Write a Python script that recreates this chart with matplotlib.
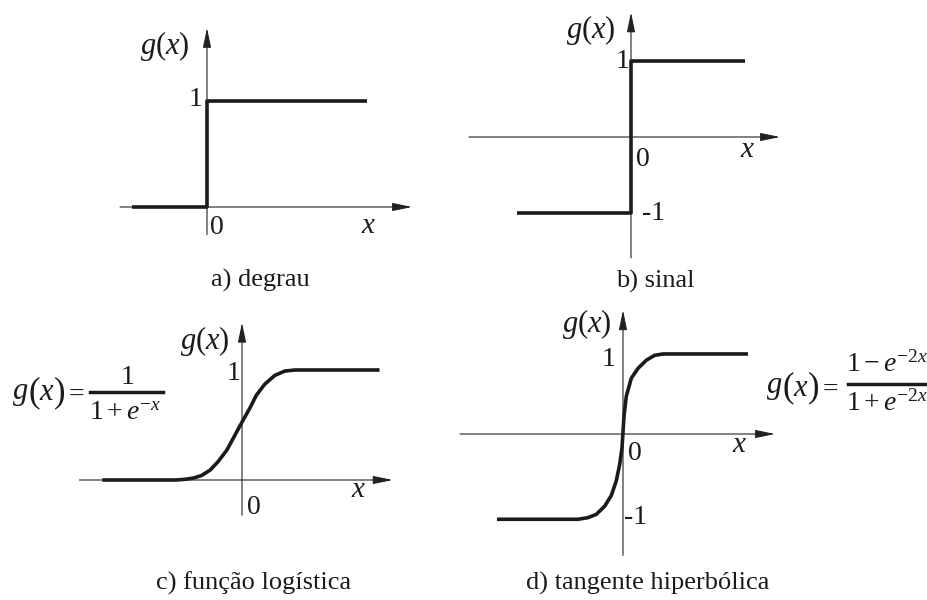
import matplotlib
matplotlib.use("Agg")
import matplotlib.pyplot as plt
from matplotlib.lines import Line2D

plt.rcParams["font.family"] = "serif"
plt.rcParams["font.serif"] = ["Liberation Serif", "Times New Roman", "DejaVu Serif"]
plt.rcParams["mathtext.fontset"] = "custom"
plt.rcParams["mathtext.rm"] = "Liberation Serif"
plt.rcParams["mathtext.it"] = "Liberation Serif:italic"

W, H = 928, 600

# a) degrau
step_x = [-1.5, 0, 0, 3.2]
step_y = [0, 0, 1, 1]
# b) sinal
sign_x = [-2.28, 0, 0, 2.28]
sign_y = [-1, -1, 1, 1]
# c) funcao logistica (pontos lidos da figura)
logi_x = [-12.7, -6.0, -5.2, -4.4, -3.7, -2.9, -2.15, -1.39, -0.79, -0.2, 0.3,
          0.75, 1.30, 2.06, 2.97, 3.88, 4.79, 12.5]
logi_y = [0, 0, 0.006, 0.018, 0.04, 0.09, 0.17, 0.27, 0.38, 0.49, 0.58,
          0.66, 0.77, 0.87, 0.95, 0.99, 1.0, 1.0]
# d) tangente hiperbolica (pontos lidos da figura)
tanh_x = [-12.6, -4.5, -3.5, -2.67, -1.83, -1.17, -0.67, -0.33, -0.1, 0.1,
          0.33, 0.83, 1.5, 2.33, 3.17, 4.0, 4.67, 12.5]
tanh_y = [-1.04, -1.04, -1.02, -0.98, -0.88, -0.75, -0.57, -0.37, -0.17, 0.22,
          0.46, 0.68, 0.80, 0.90, 0.96, 0.976, 0.976, 0.976]

fig = plt.figure(figsize=(W / 100, H / 100), dpi=100)


def painel(ox, oy, sx, sy, xr, yr):
    # eixos sobre a figura inteira, origem em (ox, oy) pixels
    ax = fig.add_axes([0, 0, 1, 1])
    ax.set_xlim(-ox / sx, (W - ox) / sx)
    ax.set_ylim(-(H - oy) / sy, oy / sy)
    ax.axis("off")
    ax.patch.set_visible(False)
    arrow = dict(arrowstyle="-|>,head_length=1.2,head_width=0.25", lw=0.8,
                 color="#222222", mutation_scale=10, shrinkA=0, shrinkB=0)
    ax.annotate("", xy=(xr[1], 0), xytext=(xr[0], 0), arrowprops=arrow)
    ax.annotate("", xy=(0, yr[1]), xytext=(0, yr[0]), arrowprops=arrow)
    return ax


def txt(px, py, s, size=19, **kw):
    fig.text(px / W, 1 - py / H, s, ha="center", va="center", size=size,
             color="#1a1a1a", **kw)


curve = dict(color="#1a1a1a", lw=2.6, solid_joinstyle="round", solid_capstyle="butt")

ax = painel(207, 207, 50, 106, (-1.74, 4.1), (-0.26, 1.69))
ax.plot(step_x, step_y, **curve)
ax = painel(631, 137, 50, 76, (-3.24, 2.98), (-1.59, 1.64))
ax.plot(sign_x, sign_y, **curve)
ax = painel(242, 480, 11, 110, (-14.8, 13.7), (-0.32, 1.43))
ax.plot(logi_x, logi_y, **curve)
ax = painel(623, 434, 10, 82, (-16.3, 15.2), (-1.48, 1.51))
ax.plot(tanh_x, tanh_y, **curve)

# rotulos
for px, py in [(165, 46), (591, 30), (205, 341), (587, 324)]:
    txt(px, py, r"$g(x)$", size=22)
for px, py in [(369, 226), (748, 150), (359, 490), (740, 445)]:
    txt(px, py, r"$x$", size=21)
for px, py in [(196, 100), (623, 62), (234, 374), (609, 359)]:
    txt(px, py, "1", size=20)
for px, py in [(217, 227), (643, 159), (254, 507), (635, 454)]:
    txt(px, py, "0", size=20)
for px, py in [(654, 213), (636, 517)]:
    txt(px, py, "-1", size=20)

txt(260, 280, "a) degrau")
txt(655, 281, "b) sinal")
txt(254, 583, "c) função logística")
txt(648, 583, "d) tangente hiperbólica")

# formulas
for (px, py, s, sz) in [(20, 393, r"$g$", 22), (34, 393, "(", 25), (47, 393, r"$x$", 22),
                        (60, 393, ")", 25), (76, 395, "=", 20)]:
    txt(px, py, s, size=sz)
txt(127, 377, r"$\mathit{1}$", size=20)
txt(125, 413, r"$\mathit{1}+e^{-x}$", size=20)
fig.add_artist(Line2D([90 / W, 163 / W], [1 - 392 / H] * 2, lw=2.5, color="#1a1a1a"))

for (px, py, s, sz) in [(774, 388, r"$g$", 22), (788, 388, "(", 25), (801, 388, r"$x$", 22),
                        (814, 388, ")", 25), (830, 390, "=", 20)]:
    txt(px, py, s, size=sz)
txt(887, 364, r"$\mathit{1}-e^{-2x}$", size=20)
txt(887, 403, r"$\mathit{1}+e^{-2x}$", size=20)
fig.add_artist(Line2D([848 / W, 928 / W], [1 - 384 / H] * 2, lw=2.5, color="#1a1a1a"))

fig.savefig("out.png", dpi=100)
